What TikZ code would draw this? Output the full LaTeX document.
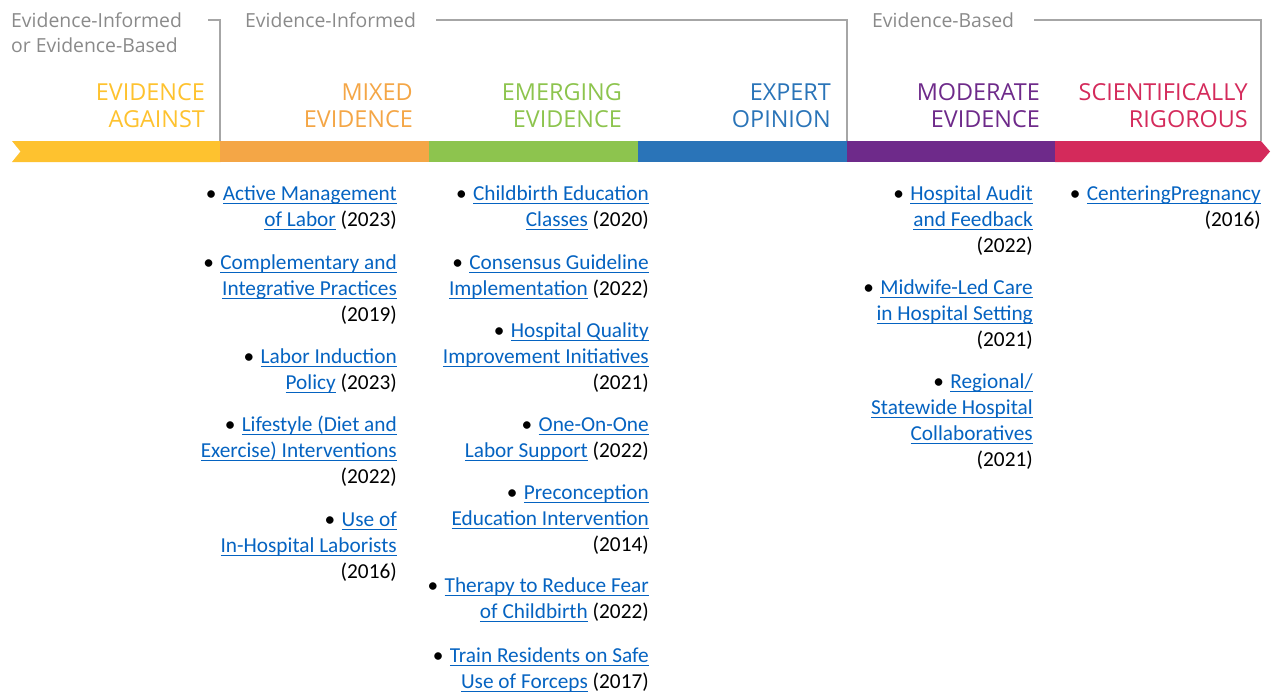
\documentclass[tikz,border=0pt]{standalone}
\usepackage{fontspec}
\setmainfont{Carlito}
\newfontfamily\hdr{Open Sans}
\definecolor{lb}{HTML}{0563C1}
\definecolor{cyel}{HTML}{FEC22F}
\definecolor{cora}{HTML}{F4A646}
\definecolor{cgrn}{HTML}{8DC44E}
\definecolor{cblu}{HTML}{2A74B8}
\definecolor{cpur}{HTML}{6E2A8A}
\definecolor{cred}{HTML}{D42A5B}
\definecolor{gtxt}{HTML}{8A8A8A}
\definecolor{gln}{HTML}{A6A6A6}
\newcommand\lk[1]{\leavevmode\setbox0\hbox{#1}\rlap{\color{lb}\rule[-4.2pt]{\wd0}{1.6pt}}\textcolor{lb}{\box0}}
\newcommand\bu{\textbullet\hspace{0.3em}}
\newcommand\fs{\rule{0pt}{18pt}}
\newcommand\hs{\rule{0pt}{20pt}}
\newcommand\gs{\rule{0pt}{15pt}}
\begin{document}
\begin{tikzpicture}[x=1pt,y=-1pt,
  itm/.style={anchor=north east,align=right,inner sep=0,font=\fontsize{21.3}{26}\selectfont},
  cat/.style={anchor=north east,align=right,inner sep=0,font=\hdr\fontsize{23.4}{27.5}\selectfont},
  grp/.style={anchor=north west,align=left,inner sep=0,text=gtxt,font=\hdr\fontsize{19.4}{25}\selectfont},
  brk/.style={draw=gln,line width=1.4pt}]
\useasboundingbox (0,0) rectangle (1274,691);
% bar
\fill[cyel] (12,141) -- (220.5,141) -- (220.5,162) -- (12,162) -- (20.5,151.5) -- cycle;
\fill[cora] (220,141) rectangle (429.5,162);
\fill[cgrn] (429,141) rectangle (638.5,162);
\fill[cblu] (638,141) rectangle (847.5,162);
\fill[cpur] (847,141) rectangle (1055.5,162);
\fill[cred] (1055,141) -- (1261,141) -- (1270,151.5) -- (1261,162) -- (1055,162) -- cycle;
% group labels
\node[grp] (g1) at (11,12) {\gs Evidence-Informed\\or Evidence-Based};
\node[grp] (g2) at (245,12) {\gs Evidence-Informed};
\node[grp] (g3) at (872,12) {\gs Evidence-Based};
% brackets
\coordinate (b1a) at (208,20); \coordinate (b1b) at (220,20); \coordinate (b1c) at (220,141);
\coordinate (b2a) at (436,20); \coordinate (b2b) at (847,20); \coordinate (b2c) at (847,141);
\coordinate (b3a) at (1034,20); \coordinate (b3b) at (1261,20); \coordinate (b3c) at (1261,141);
\draw[brk] (b1a) -- (b1b) -- (b1c);
\draw[brk] (b2a) -- (b2b) -- (b2c);
\draw[brk] (b3a) -- (b3b) -- (b3c);
% category labels
\node[cat,text=cyel] (c1) at (205,80) {\hs EVIDENCE\\AGAINST};
\node[cat,text=cora] (c2) at (413,80) {\hs MIXED\\EVIDENCE};
\node[cat,text=cgrn] (c3) at (622,80) {\hs EMERGING\\EVIDENCE};
\node[cat,text=cblu] (c4) at (831,80) {\hs EXPERT\\OPINION};
\node[cat,text=cpur] (c5) at (1040,80) {\hs MODERATE\\EVIDENCE};
\node[cat,text=cred] (c6) at (1248,80) {\hs SCIENTIFICALLY\\RIGOROUS};
% column 1
\node[itm] (a1) at (397,182) {\fs\bu\lk{Active Management}\\\lk{of Labor} (2023)};
\node[itm] (a2) at (397,251) {\fs\bu\lk{Complementary and}\\\lk{Integrative Practices}\\(2019)};
\node[itm] (a3) at (397,345) {\fs\bu\lk{Labor Induction}\\\lk{Policy} (2023)};
\node[itm] (a4) at (397,413) {\fs\bu\lk{Lifestyle (Diet and}\\\lk{Exercise) Interventions}\\(2022)};
\node[itm] (a5) at (397,508) {\fs\bu\lk{Use of}\\\lk{In-Hospital Laborists}\\(2016)};
% column 2
\node[itm] (e1) at (649,182) {\fs\bu\lk{Childbirth Education}\\\lk{Classes} (2020)};
\node[itm] (e2) at (649,251) {\fs\bu\lk{Consensus Guideline}\\\lk{Implementation} (2022)};
\node[itm] (e3) at (649,319) {\fs\bu\lk{Hospital Quality}\\\lk{Improvement Initiatives}\\(2021)};
\node[itm] (e4) at (649,413) {\fs\bu\lk{One-On-One}\\\lk{Labor Support} (2022)};
\node[itm] (e5) at (649,481) {\fs\bu\lk{Preconception}\\\lk{Education Intervention}\\(2014)};
\node[itm] (e6) at (649,574) {\fs\bu\lk{Therapy to Reduce Fear}\\\lk{of Childbirth} (2022)};
\node[itm] (e7) at (649,644) {\fs\bu\lk{Train Residents on Safe}\\\lk{Use of Forceps} (2017)};
% column 3
\node[itm] (m1) at (1033,182) {\fs\bu\lk{Hospital Audit}\\\lk{and Feedback}\\(2022)};
\node[itm] (m2) at (1033,276) {\fs\bu\lk{Midwife-Led Care}\\\lk{in Hospital Setting}\\(2021)};
\node[itm] (m3) at (1033,370) {\fs\bu\lk{Regional/}\\\lk{Statewide Hospital}\\\lk{Collaboratives}\\(2021)};
% column 4
\node[itm] (s1) at (1261,182) {\fs\bu\lk{CenteringPregnancy}\\(2016)};
\end{tikzpicture}
\end{document}
